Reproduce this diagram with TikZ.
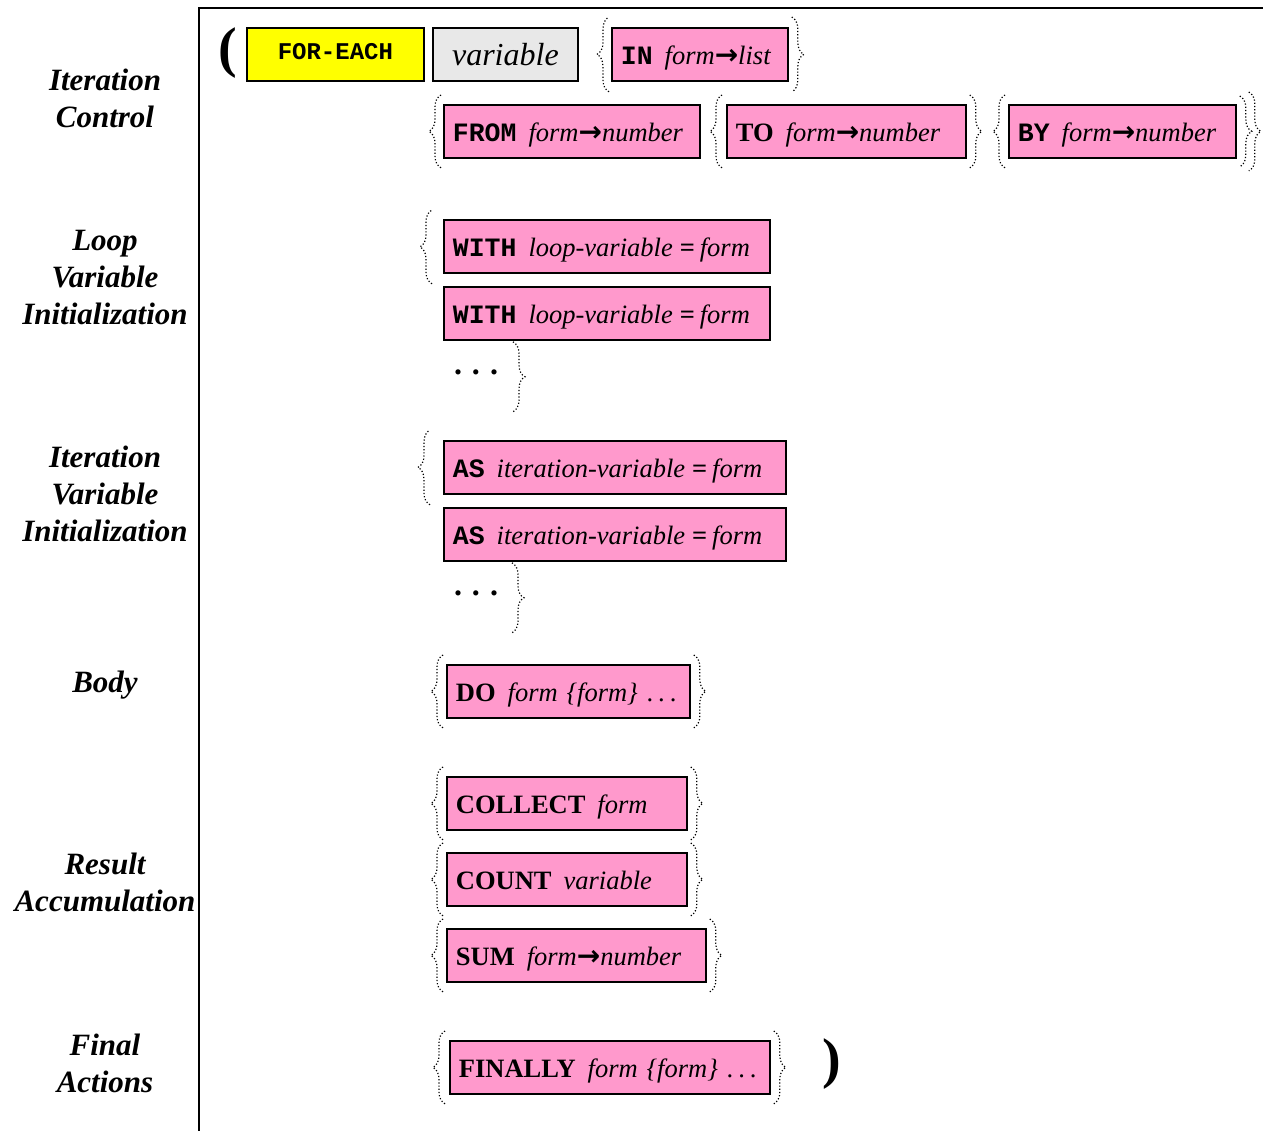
\documentclass[tikz,border=0pt]{standalone}
\usepackage{fontspec}
\setmainfont{Liberation Serif}
\setmonofont{Liberation Mono}
\newfontfamily\arrowfont{DejaVu Sans}
\usetikzlibrary{decorations.pathreplacing,calc}

\definecolor{clausepink}{HTML}{FF99CC}
\definecolor{vargray}{HTML}{E8E8E8}
\definecolor{keyyellow}{HTML}{FFFF00}

\newcommand{\kwm}[1]{{\ttfamily\bfseries #1}}
\newcommand{\kws}[1]{{\bfseries #1}}
\newcommand{\yields}{{\arrowfont\bfseries\fontsize{28}{30}\selectfont →}}
\newcommand{\kgap}{\hspace{12pt}}
\newcommand{\eqb}{\hspace{7pt}{\upshape\bfseries =}\hspace{5pt}}
\newcommand{\etc}{\mbox{.\hspace{5pt}.\hspace{5pt}.}}

\tikzset{
  secname/.style={font=\fontsize{31}{37}\selectfont\bfseries\itshape, align=center},
  clause/.style={draw, line width=1.8pt, fill=clausepink, minimum height=53pt,
    inner xsep=9pt, inner ysep=0pt, text height=23pt, text depth=3pt,
    anchor=north west, align=left, font=\fontsize{26.5}{30}\selectfont},
  brc/.style={decorate, decoration={brace, amplitude=12pt}, dotted, line width=1.2pt},
  paren/.style={font=\fontsize{56}{56}\selectfont\bfseries},
  ddd/.style={font=\fontsize{32}{32}\selectfont\bfseries}
}

\begin{document}
\begin{tikzpicture}[x=1pt, y=-1pt]
\useasboundingbox (0,0) rectangle (1263,1131);
\draw[line width=2.5pt] (1263,8) -- (199,8) -- (199,1131);

% section names
\node[secname] (ctl) at (105,98) {Iteration\\Control};
\node[secname] (lvi) at (105,278) {Loop\\Variable\\Initialization};
\node[secname] (ivi) at (105,494) {Iteration\\Variable\\Initialization};
\node[secname] (bdy) at (105,685) {Body};
\node[secname] (acc) at (105,882) {Result\\Accumulation};
\node[secname] (fin) at (105,1063) {Final\\Actions};

% iteration control
\node[paren] (lpar) at (228,53) {(};
\node[clause, fill=keyyellow, text width=159pt, align=center, text height=18pt, text depth=7pt, font=\fontsize{24}{30}\selectfont] (foreach) at (246,27) {\kwm{FOR-EACH}};
\node[clause, fill=vargray, text width=127pt, align=center, text height=27pt, text depth=4pt, font=\fontsize{32}{36}\selectfont\itshape] (var) at (432,27) {variable};
\node[clause, text width=158pt] (in) at (611,27) {\mbox{\kwm{IN}\kgap\textit{form}\yields\textit{list}}};
\node[clause, text width=238pt] (from) at (443,104) {\mbox{\kwm{FROM}\kgap\textit{form}\yields\textit{number}}};
\node[clause, text width=221pt] (to) at (726,104) {\mbox{\kws{TO}\kgap\textit{form}\yields\textit{number}}};
\node[clause, text width=209pt] (by) at (1008,104) {\mbox{\kwm{BY}\kgap\textit{form}\yields\textit{number}}};

\draw[brc] ([xshift=-2pt,yshift=-10pt]in.south west) -- ([xshift=-2pt,yshift=10pt]in.north west);
\draw[brc] ([xshift=3pt,yshift=10pt]in.north east) -- ([xshift=3pt,yshift=-10pt]in.south east);
\draw[brc] ([xshift=-2pt,yshift=-9pt]from.south west) -- ([xshift=-2pt,yshift=9pt]from.north west);
\draw[brc] ([xshift=-4pt,yshift=-9pt]to.south west) -- ([xshift=-4pt,yshift=9pt]to.north west);
\draw[brc] ([xshift=3pt,yshift=9pt]to.north east) -- ([xshift=3pt,yshift=-9pt]to.south east);
\draw[brc] ([xshift=-3pt,yshift=-9pt]by.south west) -- ([xshift=-3pt,yshift=9pt]by.north west);
\draw[brc] ([xshift=3pt,yshift=8pt]by.north east) -- ([xshift=3pt,yshift=-8pt]by.south east);
\draw[brc] ([xshift=12pt,yshift=12pt]by.north east) -- ([xshift=12pt,yshift=-12pt]by.south east);

% loop variables
\node[clause, text width=308pt] (with1) at (443,219) {\mbox{\kwm{WITH}\kgap\textit{loop-variable}\eqb\textit{form}}};
\node[clause, text width=308pt] (with2) at (443,286) {\mbox{\kwm{WITH}\kgap\textit{loop-variable}\eqb\textit{form}}};
\node[ddd] (wdots) at (476,372) {.\hspace{10pt}.\hspace{10pt}.};
\draw[brc] ([xshift=-11pt,yshift=-10pt]with1.south west) -- ([xshift=-11pt,yshift=9pt]with1.north west);
\draw[brc] ($(wdots.center |- with2.south)+(37,1)$) -- ++(0,70);

% iteration variables
\node[clause, text width=324pt] (as1) at (443,440) {\mbox{\kwm{AS}\kgap\textit{iteration-variable}\eqb\textit{form}}};
\node[clause, text width=324pt] (as2) at (443,507) {\mbox{\kwm{AS}\kgap\textit{iteration-variable}\eqb\textit{form}}};
\node[ddd] (adots) at (476,593) {.\hspace{10pt}.\hspace{10pt}.};
\draw[brc] ([xshift=-13pt,yshift=-10pt]as1.south west) -- ([xshift=-13pt,yshift=10pt]as1.north west);
\draw[brc] ($(adots.center |- as2.south)+(36,1)$) -- ++(0,70);

% body
\node[clause, text width=225pt] (do) at (446,664) {\mbox{\kws{DO}\kgap\textit{form \{form\}} \etc}};
\draw[brc] ([xshift=-3pt,yshift=-9pt]do.south west) -- ([xshift=-3pt,yshift=9pt]do.north west);
\draw[brc] ([xshift=3pt,yshift=9pt]do.north east) -- ([xshift=3pt,yshift=-9pt]do.south east);

% accumulation
\node[clause, text width=222pt] (collect) at (446,776) {\mbox{\kws{COLLECT}\kgap\textit{form}}};
\node[clause, text width=222pt] (count) at (446,852) {\mbox{\kws{COUNT}\kgap\textit{variable}}};
\node[clause, text width=241pt] (sum) at (446,928) {\mbox{\kws{SUM}\kgap\textit{form}\yields\textit{number}}};
\foreach \c in {collect,count,sum}{
  \draw[brc] ([xshift=-3pt,yshift=-9pt]\c.south west) -- ([xshift=-3pt,yshift=9pt]\c.north west);
  \draw[brc] ([xshift=3pt,yshift=9pt]\c.north east) -- ([xshift=3pt,yshift=-9pt]\c.south east);
}

% final actions
\node[clause, text width=302pt] (finally) at (449,1040) {\mbox{\kws{FINALLY}\kgap\textit{form \{form\}} \etc}};
\draw[brc] ([xshift=-4pt,yshift=-9pt]finally.south west) -- ([xshift=-4pt,yshift=9pt]finally.north west);
\draw[brc] ([xshift=3pt,yshift=9pt]finally.north east) -- ([xshift=3pt,yshift=-9pt]finally.south east);
\node[paren] (rpar) at (832,1064) {)};
\end{tikzpicture}
\end{document}
